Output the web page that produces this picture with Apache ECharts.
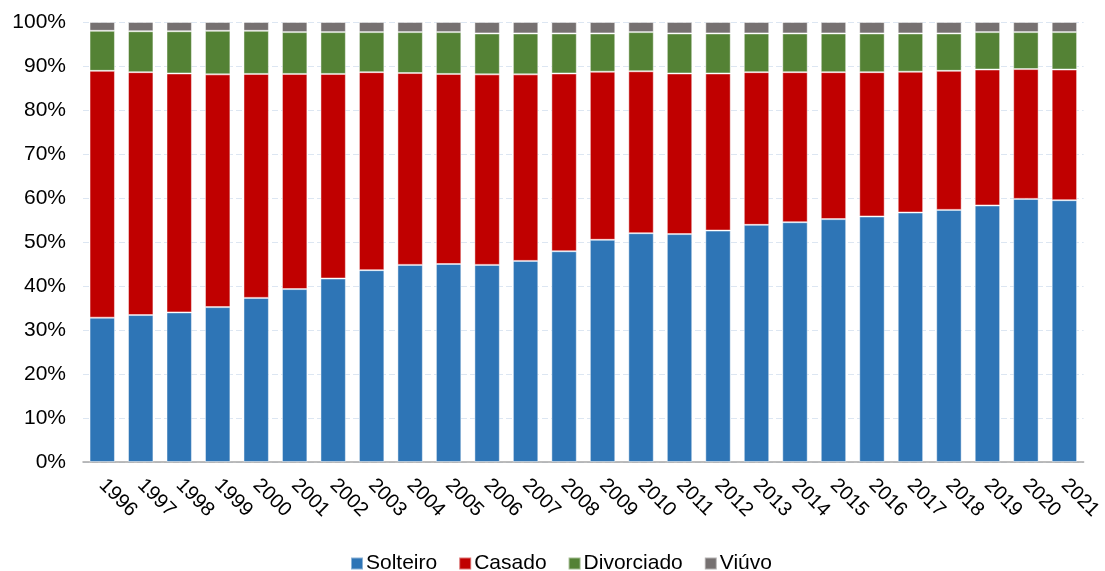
<!DOCTYPE html>
<html>
<head>
<meta charset="utf-8">
<script src="https://cdn.jsdelivr.net/npm/echarts@6/dist/echarts.min.js"></script>
<style>
  html, body { margin: 0; padding: 0; background: #fff; }
  #chart { width: 1105px; height: 571px; }
</style>
</head>
<body>
<div id="chart"></div>
<script>
const years = ["1996", "1997", "1998", "1999", "2000", "2001", "2002", "2003", "2004",
  "2005", "2006", "2007", "2008", "2009", "2010", "2011", "2012", "2013", "2014",
  "2015", "2016", "2017", "2018", "2019", "2020", "2021"];

// percentages
const solteiro = [32.8, 33.4, 34.0, 35.2, 37.3, 39.3, 41.7, 43.6, 44.8, 45.0, 44.8, 45.7, 47.9,
  50.5, 52.0, 51.8, 52.6, 53.9, 54.5, 55.2, 55.8, 56.7, 57.3, 58.3, 59.8, 59.5];
const casado = [56.1, 55.2, 54.3, 52.9, 50.9, 48.9, 46.5, 45.0, 43.6, 43.2, 43.3, 42.4, 40.4,
  38.2, 36.8, 36.5, 35.7, 34.7, 34.1, 33.4, 32.8, 32.0, 31.6, 30.9, 29.5, 29.7];
const divorciado = [9.1, 9.3, 9.6, 9.9, 9.8, 9.5, 9.5, 9.1, 9.3, 9.5, 9.3, 9.3, 9.1,
  8.7, 8.9, 9.1, 9.1, 8.8, 8.8, 8.8, 8.8, 8.7, 8.5, 8.5, 8.4, 8.5];
const viuvo = [2.0, 2.1, 2.1, 2.0, 2.0, 2.3, 2.3, 2.3, 2.3, 2.3, 2.6, 2.6, 2.6,
  2.6, 2.3, 2.6, 2.6, 2.6, 2.6, 2.6, 2.6, 2.6, 2.6, 2.3, 2.3, 2.3];

const font = "Liberation Sans, Arial, sans-serif";

function bar(name, data, color) {
  return {
    name: name,
    type: "bar",
    stack: "total",
    data: data,
    barCategoryGap: "34%",
    itemStyle: {
      color: color,
      borderColor: "rgba(255,255,255,0.45)",
      borderWidth: 1
    }
  };
}

const chart = echarts.init(document.getElementById("chart"));
chart.setOption({
  animation: false,
  backgroundColor: "#fff",
  grid: { left: 83, right: 19, top: 22, bottom: 109 },
  legend: {
    left: 350,
    top: 553,
    padding: 0,
    itemWidth: 12,
    itemHeight: 12,
    itemGap: 21,
    icon: "rect",
    textStyle: { fontFamily: font, fontSize: 21, color: "#000", padding: [0, 0, 0, -2] },
    data: ["Solteiro", "Casado", "Divorciado", "Viúvo"]
  },
  xAxis: {
    type: "category",
    data: years,
    axisLine: { lineStyle: { color: "#A6A6A6", width: 1.5 } },
    axisTick: { show: false },
    axisLabel: {
      rotate: -45,
      margin: 20,
      interval: 0,
      fontFamily: font,
      fontSize: 20,
      color: "#000"
    }
  },
  yAxis: {
    type: "value",
    min: 0,
    max: 100,
    interval: 10,
    axisLine: { show: false },
    axisTick: { show: false },
    splitLine: { lineStyle: { color: "#DCE6F2", type: [6, 3], width: 1 } },
    axisLabel: {
      formatter: "{value}%",
      margin: 17,
      fontFamily: font,
      fontSize: 21,
      color: "#000"
    }
  },
  series: [
    bar("Solteiro", solteiro, "#2E75B6"),
    bar("Casado", casado, "#C00000"),
    bar("Divorciado", divorciado, "#548235"),
    bar("Viúvo", viuvo, "#767171")
  ]
});
</script>
</body>
</html>
